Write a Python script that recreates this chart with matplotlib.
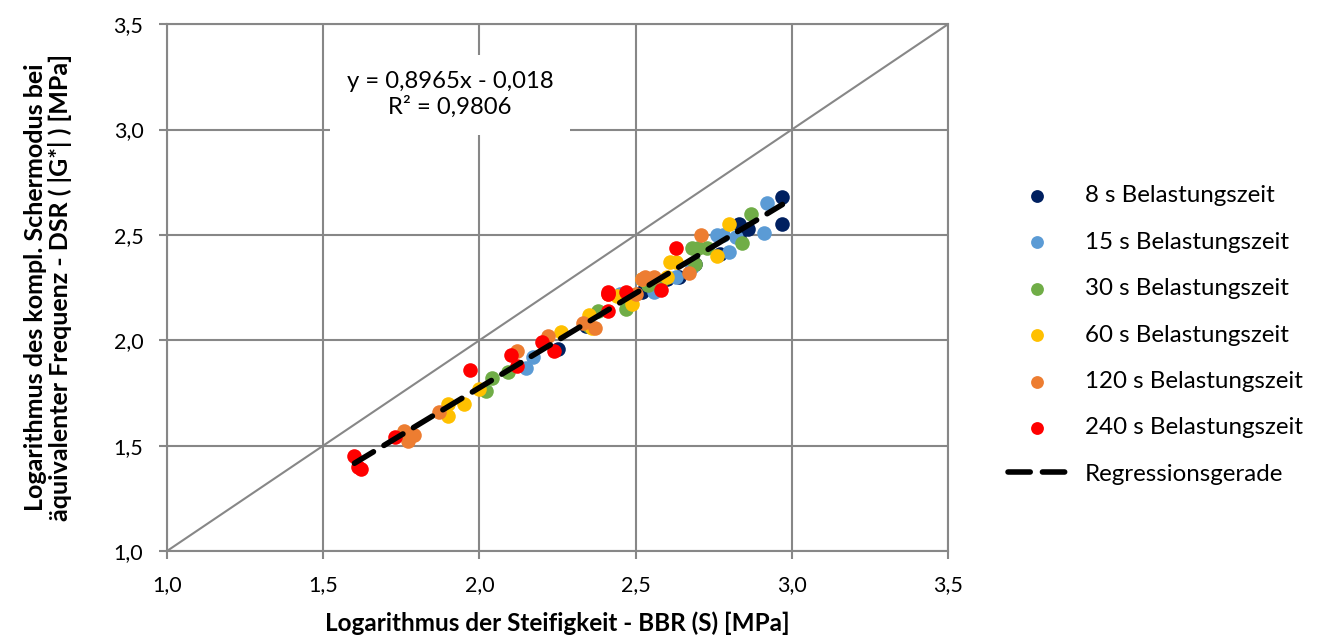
import matplotlib.pyplot as plt
import numpy as np

plt.rcParams['font.family'] = ['Lato', 'DejaVu Sans']

# data (log stiffness BBR vs log |G*| DSR)
x_8s = [2.25, 2.34, 2.52, 2.60, 2.64, 2.69, 2.77, 2.83, 2.83, 2.86, 2.97, 2.97]
y_8s = [1.96, 2.07, 2.23, 2.29, 2.30, 2.36, 2.41, 2.55, 2.49, 2.53, 2.68, 2.55]

x_15s = [2.15, 2.17, 2.45, 2.56, 2.63, 2.68, 2.76, 2.78, 2.80, 2.82, 2.91, 2.92]
y_15s = [1.87, 1.92, 2.22, 2.23, 2.30, 2.35, 2.50, 2.50, 2.42, 2.49, 2.51, 2.65]

x_30s = [2.02, 2.04, 2.09, 2.35, 2.38, 2.47, 2.54, 2.58, 2.68, 2.69, 2.70, 2.73, 2.84, 2.87]
y_30s = [1.76, 1.82, 1.85, 2.07, 2.14, 2.15, 2.26, 2.28, 2.44, 2.36, 2.44, 2.44, 2.46, 2.60]

x_60s = [1.90, 1.90, 1.95, 2.00, 2.26, 2.35, 2.36, 2.44, 2.49, 2.52, 2.60, 2.61, 2.63, 2.76, 2.80]
y_60s = [1.70, 1.64, 1.70, 1.77, 2.04, 2.12, 2.06, 2.21, 2.17, 2.29, 2.30, 2.37, 2.37, 2.40, 2.55]

x_120s = [1.76, 1.77, 1.79, 1.87, 2.12, 2.22, 2.33, 2.37, 2.41, 2.50, 2.52, 2.53, 2.56, 2.67, 2.71]
y_120s = [1.57, 1.52, 1.55, 1.66, 1.95, 2.02, 2.08, 2.06, 2.22, 2.22, 2.29, 2.30, 2.30, 2.32, 2.50]

x_240s = [1.60, 1.61, 1.62, 1.73, 1.97, 2.10, 2.12, 2.20, 2.24, 2.41, 2.41, 2.41, 2.47, 2.58, 2.63]
y_240s = [1.45, 1.40, 1.39, 1.54, 1.86, 1.93, 1.88, 1.99, 1.95, 2.22, 2.23, 2.14, 2.23, 2.24, 2.44]

labels = ['8 s Belastungszeit', '15 s Belastungszeit', '30 s Belastungszeit',
          '60 s Belastungszeit', '120 s Belastungszeit', '240 s Belastungszeit']
colors = ['#002060', '#5B9BD5', '#70AD47', '#FFC000', '#ED7D31', '#FF0000']

slope, intercept = 0.8965, -0.018
reg_x = [1.60, 2.97]

fig = plt.figure(figsize=(13.18, 6.37), dpi=100)
ax = fig.add_axes([0.1267, 0.135, 0.5926, 0.827])

grid_c = '#878787'
ax.plot([1.0, 3.5], [1.0, 3.5], color=grid_c, lw=1.5, zorder=2)

series = [(x_8s, y_8s), (x_15s, y_15s), (x_30s, y_30s),
          (x_60s, y_60s), (x_120s, y_120s), (x_240s, y_240s)]
for (xs, ys), lab, c in zip(series, labels, colors):
    ax.scatter(xs, ys, s=110, color=c, label=lab, zorder=3, linewidths=0)

rx = np.array(reg_x)
ax.plot(rx, slope * rx + intercept, color='black', lw=4, ls=(0, (4, 2.2)),
        dash_capstyle='round', label='Regressionsgerade', zorder=4)

ax.set_xlim(1.0, 3.5)
ax.set_ylim(1.0, 3.5)
ticks = np.arange(1.0, 3.51, 0.5)
ax.set_xticks(ticks)
ax.set_yticks(ticks)
ax.set_xticklabels([f'{t:.1f}'.replace('.', ',') for t in ticks], fontsize=15.5)
ax.set_yticklabels([f'{t:.1f}'.replace('.', ',') for t in ticks], fontsize=15.5)
ax.grid(True, color=grid_c, lw=1.5, zorder=0)
ax.set_axisbelow(True)
for sp in ax.spines.values():
    sp.set_color(grid_c)
    sp.set_linewidth(1.5)
ax.tick_params(length=6, color=grid_c, width=1.5, pad=11)

ax.set_xlabel('Logarithmus der Steifigkeit - BBR (S) [MPa]', fontsize=17.5,
              fontweight='bold', labelpad=12)
ax.set_ylabel('Logarithmus des kompl. Schermodus bei\näquivalenter Frequenz - DSR ( |G*| ) [MPa]',
              fontsize=18, fontweight='bold', labelpad=30, linespacing=1.02)

ax.text(1.906, 3.165, 'y = 0,8965x - 0,018\nR² = 0,9806', ha='center', va='center',
        fontsize=17.2, linespacing=1.2, zorder=5,
        bbox=dict(boxstyle='square,pad=0.7', fc='white', ec='none'))

leg = ax.legend(loc='center left', bbox_to_anchor=(1.064, 0.41), borderaxespad=0,
                frameon=False, fontsize=17.4, labelspacing=1.05, handlelength=2.4,
                handletextpad=0.8, scatterpoints=1, markerscale=0.88)

fig.savefig('out.png', dpi=100)
